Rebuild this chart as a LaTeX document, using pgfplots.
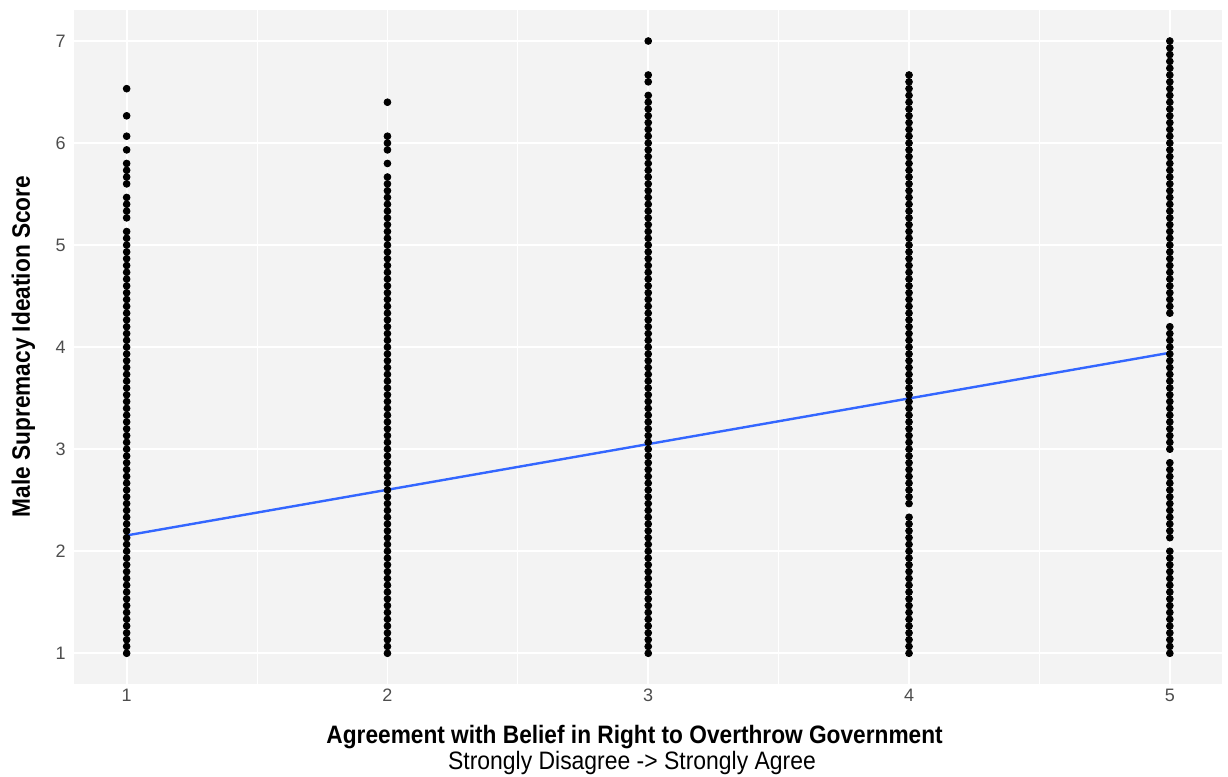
\documentclass[border=0pt]{standalone}
\usepackage{pgfplots}
\pgfplotsset{compat=1.18}
\usepackage{fontspec}
\setmainfont{Liberation Sans}
\newfontface\titlebold[FakeStretch=0.9]{Liberation Sans Bold}
\newfontface\subfont[FakeStretch=0.91]{Liberation Sans}
\definecolor{panelbg}{HTML}{F3F3F3}
\definecolor{ticktext}{HTML}{4D4D4D}
\definecolor{lmblue}{HTML}{3366FF}
\begin{document}
\begin{tikzpicture}
\path[use as bounding box] (-37.25pt,-46.55pt) rectangle (576.75pt,341.95pt);
\begin{axis}[
  at={(0pt,0pt)}, anchor=south west,
  scale only axis, width=573.75pt, height=336.75pt,
  xmin=0.8, xmax=5.2, ymin=0.7, ymax=7.3,
  xtick={1,2,3,4,5}, ytick={1,2,3,4,5,6,7},
  minor xtick={1.5,2.5,3.5,4.5},
  grid=both,
  major grid style={white, line width=0.9pt},
  minor grid style={white, line width=0.5pt},
  axis line style={draw=none},
  tick style={draw=none},
  axis background/.style={fill=panelbg},
  /pgf/number format/assume math mode=true,
  ticklabel style={font=\fontsize{9}{10}\selectfont, text=ticktext, inner sep=0pt},
  yticklabel style={anchor=east, xshift=-4.25pt},
  xticklabel style={anchor=north, yshift=-2.55pt},
  clip=false,
]
\addplot[only marks, mark=*, mark size=1.7pt, mark options={fill=black, draw=black}] coordinates {
(1,1.000)(1,1.067)(1,1.133)(1,1.200)(1,1.267)(1,1.333)(1,1.400)(1,1.467)(1,1.533)(1,1.600)(1,1.667)(1,1.733)(1,1.800)(1,1.867)(1,1.933)
(1,2.000)(1,2.067)(1,2.133)(1,2.200)(1,2.267)(1,2.333)(1,2.400)(1,2.467)(1,2.533)(1,2.600)(1,2.667)(1,2.733)(1,2.800)(1,2.867)(1,2.933)
(1,3.000)(1,3.067)(1,3.133)(1,3.200)(1,3.267)(1,3.333)(1,3.400)(1,3.467)(1,3.533)(1,3.600)(1,3.667)(1,3.733)(1,3.800)(1,3.867)(1,3.933)
(1,4.000)(1,4.067)(1,4.133)(1,4.200)(1,4.267)(1,4.333)(1,4.400)(1,4.467)(1,4.533)(1,4.600)(1,4.667)(1,4.733)(1,4.800)(1,4.867)(1,4.933)
(1,5.000)(1,5.067)(1,5.133)(1,5.267)(1,5.333)(1,5.400)(1,5.467)(1,5.600)(1,5.667)(1,5.733)(1,5.800)(1,5.933)
(1,6.067)(1,6.267)(1,6.533)
};
\addplot[only marks, mark=*, mark size=1.7pt, mark options={fill=black, draw=black}] coordinates {
(2,1.000)(2,1.067)(2,1.133)(2,1.200)(2,1.267)(2,1.333)(2,1.400)(2,1.467)(2,1.533)(2,1.600)(2,1.667)(2,1.733)(2,1.800)(2,1.867)(2,1.933)
(2,2.000)(2,2.067)(2,2.133)(2,2.200)(2,2.267)(2,2.333)(2,2.400)(2,2.467)(2,2.533)(2,2.600)(2,2.667)(2,2.733)(2,2.800)(2,2.867)(2,2.933)
(2,3.000)(2,3.067)(2,3.133)(2,3.200)(2,3.267)(2,3.333)(2,3.400)(2,3.467)(2,3.533)(2,3.600)(2,3.667)(2,3.733)(2,3.800)(2,3.867)(2,3.933)
(2,4.000)(2,4.067)(2,4.133)(2,4.200)(2,4.267)(2,4.333)(2,4.400)(2,4.467)(2,4.533)(2,4.600)(2,4.667)(2,4.733)(2,4.800)(2,4.867)(2,4.933)
(2,5.000)(2,5.067)(2,5.133)(2,5.200)(2,5.267)(2,5.333)(2,5.400)(2,5.467)(2,5.533)(2,5.600)(2,5.667)(2,5.800)(2,5.933)
(2,6.000)(2,6.067)(2,6.400)
};
\addplot[only marks, mark=*, mark size=1.7pt, mark options={fill=black, draw=black}] coordinates {
(3,1.000)(3,1.067)(3,1.133)(3,1.200)(3,1.267)(3,1.333)(3,1.400)(3,1.467)(3,1.533)(3,1.600)(3,1.667)(3,1.733)(3,1.800)(3,1.867)(3,1.933)
(3,2.000)(3,2.067)(3,2.133)(3,2.200)(3,2.267)(3,2.333)(3,2.400)(3,2.467)(3,2.533)(3,2.600)(3,2.667)(3,2.733)(3,2.800)(3,2.867)(3,2.933)
(3,3.000)(3,3.067)(3,3.133)(3,3.200)(3,3.267)(3,3.333)(3,3.400)(3,3.467)(3,3.533)(3,3.600)(3,3.667)(3,3.733)(3,3.800)(3,3.867)(3,3.933)
(3,4.000)(3,4.067)(3,4.133)(3,4.200)(3,4.267)(3,4.333)(3,4.400)(3,4.467)(3,4.533)(3,4.600)(3,4.667)(3,4.733)(3,4.800)(3,4.867)(3,4.933)
(3,5.000)(3,5.067)(3,5.133)(3,5.200)(3,5.267)(3,5.333)(3,5.400)(3,5.467)(3,5.533)(3,5.600)(3,5.667)(3,5.733)(3,5.800)(3,5.867)(3,5.933)
(3,6.000)(3,6.067)(3,6.133)(3,6.200)(3,6.267)(3,6.333)(3,6.400)(3,6.467)(3,6.600)(3,6.667)(3,7.000)
};
\addplot[only marks, mark=*, mark size=1.7pt, mark options={fill=black, draw=black}] coordinates {
(4,1.000)(4,1.067)(4,1.133)(4,1.200)(4,1.267)(4,1.333)(4,1.400)(4,1.467)(4,1.533)(4,1.600)(4,1.667)(4,1.733)(4,1.800)(4,1.867)(4,1.933)
(4,2.000)(4,2.067)(4,2.133)(4,2.200)(4,2.267)(4,2.333)(4,2.467)(4,2.533)(4,2.600)(4,2.667)(4,2.733)(4,2.800)(4,2.867)(4,2.933)
(4,3.000)(4,3.067)(4,3.133)(4,3.200)(4,3.267)(4,3.333)(4,3.400)(4,3.467)(4,3.533)(4,3.600)(4,3.667)(4,3.733)(4,3.800)(4,3.867)(4,3.933)
(4,4.000)(4,4.067)(4,4.133)(4,4.200)(4,4.267)(4,4.333)(4,4.400)(4,4.467)(4,4.533)(4,4.600)(4,4.667)(4,4.733)(4,4.800)(4,4.867)(4,4.933)
(4,5.000)(4,5.067)(4,5.133)(4,5.200)(4,5.267)(4,5.333)(4,5.400)(4,5.467)(4,5.533)(4,5.600)(4,5.667)(4,5.733)(4,5.800)(4,5.867)(4,5.933)
(4,6.000)(4,6.067)(4,6.133)(4,6.200)(4,6.267)(4,6.333)(4,6.400)(4,6.467)(4,6.533)(4,6.600)(4,6.667)
};
\addplot[only marks, mark=*, mark size=1.7pt, mark options={fill=black, draw=black}] coordinates {
(5,1.000)(5,1.067)(5,1.133)(5,1.200)(5,1.267)(5,1.333)(5,1.400)(5,1.467)(5,1.533)(5,1.600)(5,1.667)(5,1.733)(5,1.800)(5,1.867)(5,1.933)
(5,2.000)(5,2.133)(5,2.200)(5,2.267)(5,2.333)(5,2.400)(5,2.467)(5,2.533)(5,2.600)(5,2.667)(5,2.733)(5,2.800)(5,2.867)
(5,3.000)(5,3.067)(5,3.133)(5,3.200)(5,3.267)(5,3.333)(5,3.400)(5,3.467)(5,3.533)(5,3.600)(5,3.667)(5,3.733)(5,3.800)(5,3.867)(5,3.933)
(5,4.000)(5,4.067)(5,4.133)(5,4.200)(5,4.333)(5,4.400)(5,4.467)(5,4.533)(5,4.600)(5,4.667)(5,4.733)(5,4.800)(5,4.867)(5,4.933)
(5,5.000)(5,5.067)(5,5.133)(5,5.200)(5,5.267)(5,5.333)(5,5.400)(5,5.467)(5,5.533)(5,5.600)(5,5.667)(5,5.733)(5,5.800)(5,5.867)(5,5.933)
(5,6.000)(5,6.067)(5,6.133)(5,6.200)(5,6.267)(5,6.333)(5,6.400)(5,6.467)(5,6.533)(5,6.600)(5,6.667)(5,6.733)(5,6.800)(5,6.867)(5,6.933)
(5,7.000)
};
\addplot[color=lmblue, line width=1.2pt] coordinates {(1,2.155)(5,3.945)};
\end{axis}
\node[anchor=base, inner sep=0pt, font=\titlebold\fontsize{12.6}{14}\selectfont] at (280.05pt,-30.05pt) {Agreement with Belief in Right to Overthrow Government};
\node[anchor=base, inner sep=0pt, font=\subfont\fontsize{12.6}{14}\selectfont] at (278.75pt,-43.05pt) {Strongly Disagree -> Strongly Agree};
\node[anchor=base, rotate=90, inner sep=0pt, font=\titlebold\fontsize{12.6}{14}\selectfont] at (-22.25pt,168.7pt) {Male Supremacy Ideation Score};
\end{tikzpicture}
\end{document}
